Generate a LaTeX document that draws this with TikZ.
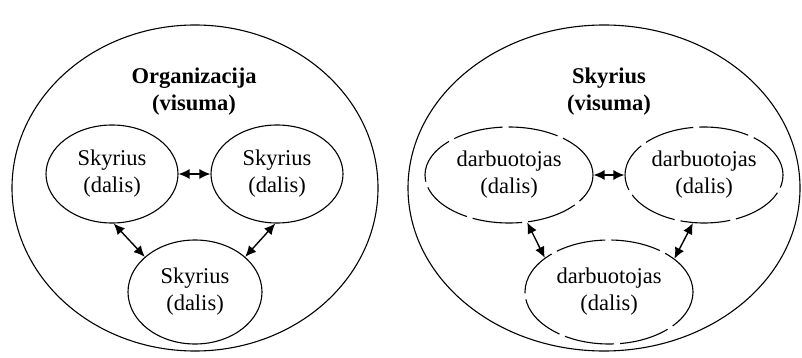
\documentclass[tikz,border=0pt]{standalone}
\usepackage{fontspec}
\setmainfont{Liberation Serif}
\usetikzlibrary{shapes.geometric,arrows.meta}
\begin{document}
\begin{tikzpicture}[x={(1pt,0)},y={(0,-1pt)},
  whole/.style={ellipse,draw,line width=1.1pt,inner sep=0pt},
  part/.style={ellipse,draw,line width=1.1pt,inner sep=0pt,align=center,
    font=\fontsize{22.5}{27}\selectfont},
  dpart/.style={part,dash pattern=on 50pt off 6pt},
  title/.style={align=center,font=\fontsize{22.5}{27}\selectfont\bfseries},
  link/.style={{Latex[length=11pt,width=10pt]}-{Latex[length=11pt,width=10pt]},line width=1.4pt}]
\useasboundingbox (0,0) rectangle (802,358);

% left: organisation as a whole, departments as its parts
\node[whole,minimum width=366pt,minimum height=326pt] (org) at (195,188) {};
\node[title] (orgt) at (194,92) {Organizacija\\(visuma)};
\node[part,minimum width=132pt,minimum height=98pt] (s1) at (112,174) {Skyrius\\(dalis)};
\node[part,minimum width=132pt,minimum height=98pt] (s2) at (277,174) {Skyrius\\(dalis)};
\node[part,minimum width=134pt,minimum height=104pt] (s3) at (195,292) {Skyrius\\(dalis)};
\draw[link] (s1.east) -- (s2.west);
\draw[link] (s1.-88) -- (s3.145);
\draw[link] (s2.-92) -- (s3.35);

% right: department as a whole, employees as its parts
\node[whole,minimum width=392pt,minimum height=326pt] (dep) at (604,188) {};
\node[title] (dept) at (609,92) {Skyrius\\(visuma)};
\node[dpart,minimum width=168pt,minimum height=96pt] (d1) at (509,175) {darbuotojas\\(dalis)};
\node[dpart,minimum width=158pt,minimum height=96pt] (d2) at (704,175) {darbuotojas\\(dalis)};
\node[dpart,minimum width=168pt,minimum height=104pt] (d3) at (609,292) {darbuotojas\\(dalis)};
\draw[link] (d1.east) -- (d2.west);
\draw[link] (d1.-69) -- (d3.152);
\draw[link] (d2.-103) -- (d3.27);
\end{tikzpicture}
\end{document}
